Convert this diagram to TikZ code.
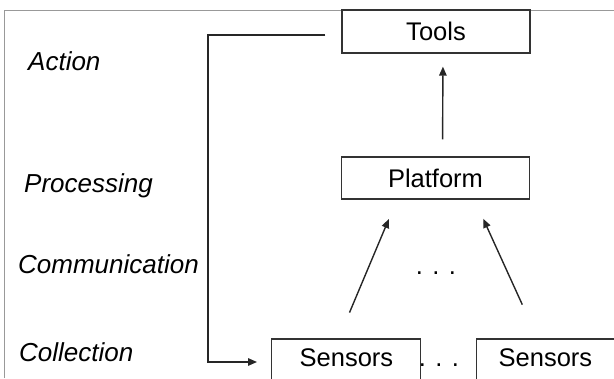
\documentclass[tikz,border=0pt]{standalone}
\usepackage{fontspec}
\setmainfont{Liberation Sans}
\usetikzlibrary{arrows.meta}

\begin{document}
\begin{tikzpicture}[x=1bp, y=-1bp,
  every node/.style={font=\fontsize{25.5bp}{30bp}\selectfont},
  layer/.style={anchor=base west, inner sep=0pt, font=\fontsize{26bp}{30bp}\selectfont\itshape},
  box/.style={draw=black!80, line width=1.3bp, minimum width=188bp, minimum height=43bp, inner sep=0pt},
  sens/.style={draw=black!80, line width=1.3bp, anchor=base west, align=left, text height=18bp, text depth=30bp, inner ysep=9bp},
  dots/.style={anchor=base, inner sep=0pt},
  frame/.style={draw=black!40, line width=1bp},
  arr/.style={-{Triangle[length=9bp,width=7.5bp]}, line width=1.4bp, black!85},
]
\useasboundingbox (0,0) rectangle (614,378);
\clip (0,0) rectangle (614,378);
\draw[frame] (4,378) |- (614,10);

% layer names down the left side
\node[layer] (action) at (28,70) {Action};
\node[layer] (proc) at (24,192) {Processing};
\node[layer] (comm) at (18,273) {Communication};
\node[layer] (coll) at (19,361) {Collection};

% the stack
\node[box] (tools) at (436,31.5) {Tools};
\node[box, minimum height=42bp] (plat) at (435.5,178) {Platform};
\node[sens, inner xsep=28bp, text width=93bp] (sensA) at (271,366) {Sensors};
\node[sens, inner xsep=22bp, text width=160bp] (sensB) at (476,366) {Sensors};
\node[dots] (gap) at (436,274) {. . .};
\node[dots] (more) at (439,366) {. . .};

\coordinate (loop) at (208,35);

\draw[arr, shorten <=17bp, shorten >=13bp] ([xshift=7bp]plat.north) -- ([xshift=7bp]tools.south);
\draw[arr, shorten <=28bp, shorten >=21bp] ([xshift=-7.5bp]sensA.north) -- ([xshift=-38.5bp]plat.south);
\draw[arr, shorten <=37bp, shorten >=21bp] ([xshift=-41bp]sensB.north) -- ([xshift=39bp]plat.south);
\draw[arr, shorten <=16bp, shorten >=14bp] (tools.west |- loop) -- (loop) |- ([yshift=4bp]sensA.base west);
\end{tikzpicture}
\end{document}
